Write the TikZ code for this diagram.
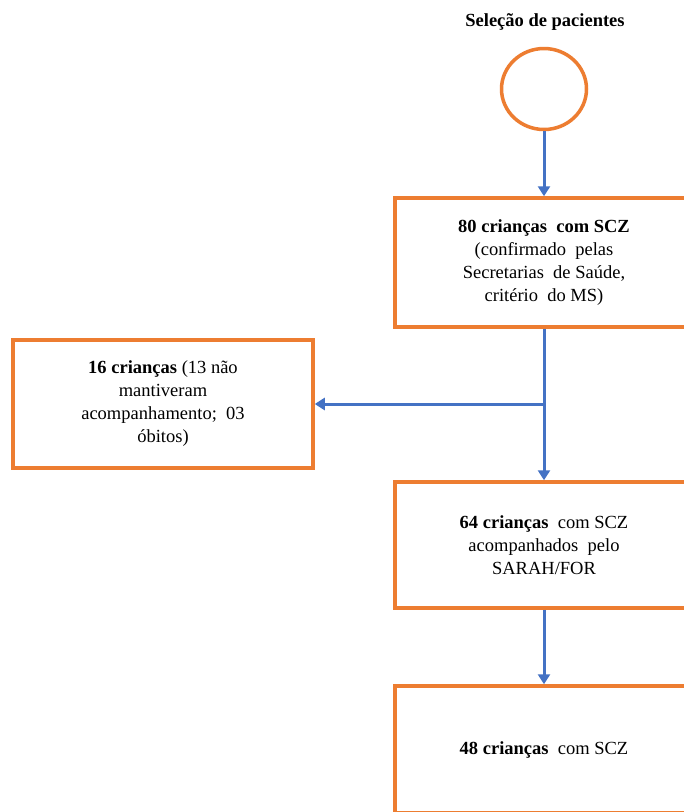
\documentclass[tikz,border=0pt]{standalone}
\usepackage{fontspec}
\setmainfont{Liberation Serif}
\usetikzlibrary{arrows.meta,shapes.geometric}
\definecolor{boxorange}{HTML}{ED7D31}
\definecolor{flowblue}{HTML}{4472C4}
\begin{document}
\begin{tikzpicture}[x=1pt,y=-1pt,
  every node/.style={font=\fontsize{18.5}{23}\selectfont, align=center, inner sep=0pt},
  stepbox/.style={draw=boxorange, line width=3.5pt, fill=white, minimum width=298pt},
  flow/.style={draw=flowblue, line width=3pt, -{Triangle[width=12pt,length=10pt]}}]
  \clip (0,0) rectangle (684,812);
  \fill[white] (0,0) rectangle (684,812);

  % title and start symbol
  \node[font=\bfseries\fontsize{18.5}{23}\selectfont] (title) at (545,22) {Seleção de pacientes};
  \node[ellipse, draw=boxorange, line width=3.5pt, minimum width=85pt, minimum height=81pt] (start) at (544,89) {};

  % main column
  \node[stepbox, minimum height=129pt] (b1) at (544,262.5)
    {\textbf{80 crianças\ \ com SCZ}\\(confirmado\ \ pelas\\Secretarias\ \ de Saúde,\\critério\ \ do MS)};
  \node[stepbox, minimum height=126pt] (b3) at (544,545)
    {\textbf{64 crianças}\ \ com SCZ\\acompanhados\ \ pelo\\SARAH/FOR};
  \node[stepbox, minimum height=127pt] (b4) at (544,749.5)
    {\textbf{48 crianças}\ \ com SCZ};

  % side box
  \node[stepbox, minimum width=300pt, minimum height=128pt] (lost) at (163,404)
    {\textbf{16 crianças}\ (13 não\\mantiveram\\acompanhamento;\ \ 03\\óbitos)};

  % connectors
  \draw[flow] (start) -- (b1);
  \draw[flow] (b1) -- (b3);
  \coordinate (split) at (b1.south |- lost.east);
  \draw[flow] (split) -- (lost.east);
  \draw[flow] (b3) -- (b4);
\end{tikzpicture}
\end{document}
